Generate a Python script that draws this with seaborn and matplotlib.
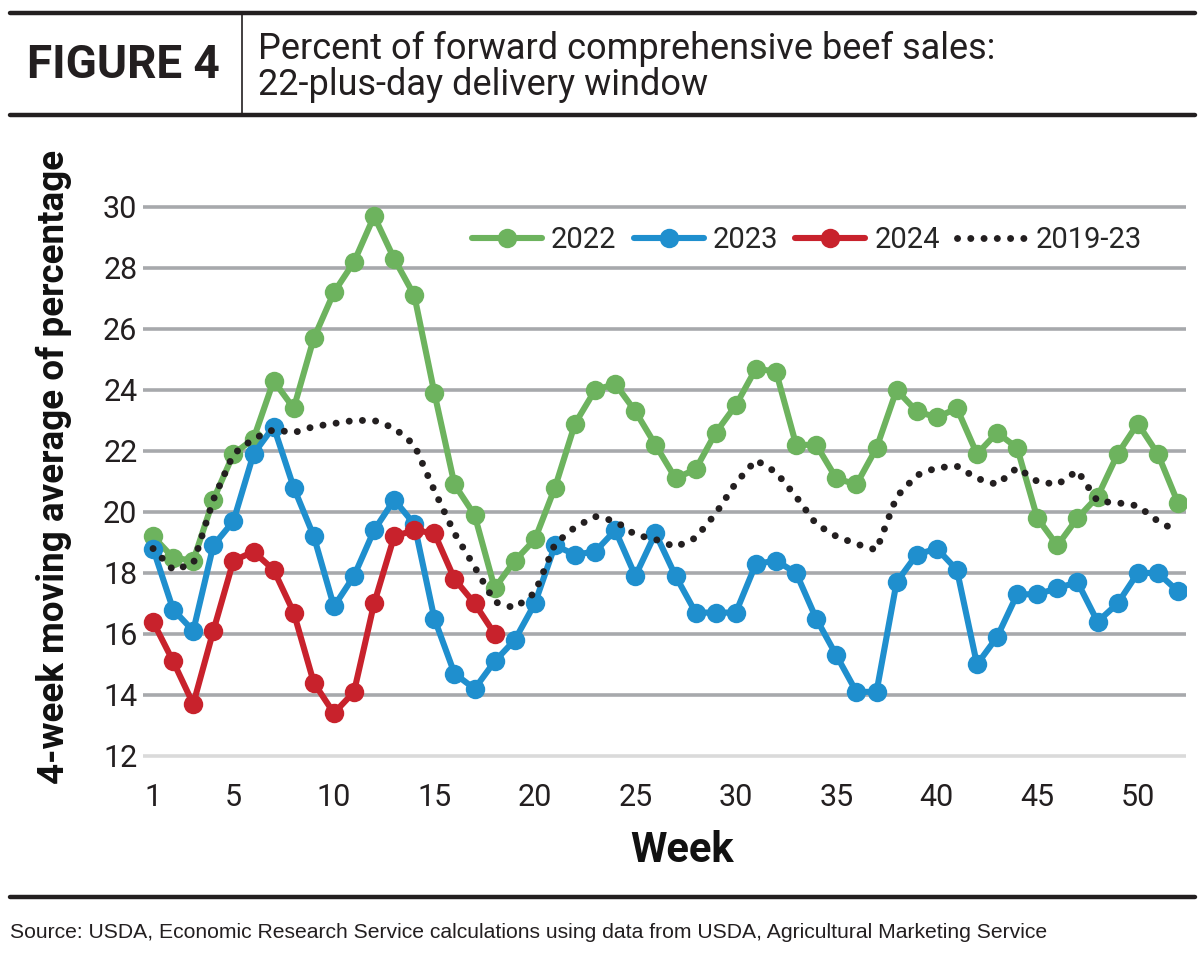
import numpy as np
import pandas as pd
import matplotlib
matplotlib.use('Agg')
import matplotlib.pyplot as plt
import seaborn as sns
from matplotlib.lines import Line2D

# Data (week 1..52)
weeks = list(range(1, 53))
y2022 = [19.2, 18.5, 18.4, 20.4, 21.9, 22.4, 24.3, 23.4, 25.7, 27.2,
         28.2, 29.7, 28.3, 27.1, 23.9, 20.9, 19.9, 17.5, 18.4, 19.1,
         20.8, 22.9, 24.0, 24.2, 23.3, 22.2, 21.1, 21.4, 22.6, 23.5,
         24.7, 24.6, 22.2, 22.2, 21.1, 20.9, 22.1, 24.0, 23.3, 23.1,
         23.4, 21.9, 22.6, 22.1, 19.8, 18.9, 19.8, 20.5, 21.9, 22.9,
         21.9, 20.3]
y2023 = [18.8, 16.8, 16.1, 18.9, 19.7, 21.9, 22.8, 20.8, 19.2, 16.9,
         17.9, 19.4, 20.4, 19.6, 16.5, 14.7, 14.2, 15.1, 15.8, 17.0,
         18.9, 18.6, 18.7, 19.4, 17.9, 19.3, 17.9, 16.7, 16.7, 16.7,
         18.3, 18.4, 18.0, 16.5, 15.3, 14.1, 14.1, 17.7, 18.6, 18.8,
         18.1, 15.0, 15.9, 17.3, 17.3, 17.5, 17.7, 16.4, 17.0, 18.0,
         18.0, 17.4]
y2024 = [16.4, 15.1, 13.7, 16.1, 18.4, 18.7, 18.1, 16.7, 14.4, 13.4,
         14.1, 17.0, 19.2, 19.4, 19.3, 17.8, 17.0, 16.0]
avg_19_23 = [18.8, 18.1, 18.3, 20.4, 21.9, 22.4, 22.7, 22.6, 22.8, 22.9,
             23.0, 23.0, 22.75, 22.2, 20.7, 19.3, 18.2, 17.05, 16.85, 17.35,
             18.95, 19.5, 19.85, 19.7, 19.25, 19.1, 18.85, 19.15, 19.95, 20.95,
             21.7, 21.3, 20.5, 19.6, 19.2, 18.95, 18.75, 20.5, 21.2, 21.45,
             21.5, 21.1, 20.9, 21.45, 21.0, 20.9, 21.35, 20.35, 20.3, 20.2,
             19.7, 19.35]

xticks = [1, 5, 10, 15, 20, 25, 30, 35, 40, 45, 50]
yticks = list(range(12, 31, 2))

green = '#6DB35E'
blue = '#1F8FCE'
red = '#C8222C'
dark = '#231F20'
grid_gray = '#A7A9AC'

sns.set_style('white')
plt.rcParams['font.family'] = ['Roboto', 'DejaVu Sans']

fig = plt.figure(figsize=(12, 9.58), dpi=100)
ax = fig.add_axes([143 / 1200, 0.2046, (1186 - 143) / 1200, 0.5857])

line_kw = dict(lw=4.4, marker='o', markersize=14, markeredgewidth=0)
sns.lineplot(x=weeks, y=y2022, color=green, label='2022', ax=ax, **line_kw)
sns.lineplot(x=weeks, y=y2023, color=blue, label='2023', ax=ax, **line_kw)
sns.lineplot(x=weeks[:len(y2024)], y=y2024, color=red, label='2024', ax=ax, **line_kw)
sns.lineplot(x=weeks, y=avg_19_23, color=dark, label='2019-23', ax=ax,
             lw=5, linestyle=(0, (0.01, 1.9)), dash_capstyle='round')

ax.set_xlim(0.5, 52.4)
ax.set_ylim(11.8, 30.2)
ax.set_xticks(xticks)
ax.set_yticks(yticks)
ax.grid(axis='y', color=grid_gray, lw=2.6)
ax.get_ygridlines()[0].set_color('#DADADA')
ax.set_axisbelow(True)
for s in ax.spines.values():
    s.set_visible(False)
ax.tick_params(axis='both', length=0, labelsize=22, colors='#231F20')
ax.tick_params(axis='y', pad=4)
ax.tick_params(axis='x', pad=15)

ax.set_ylabel('4-week moving average of percentage', fontweight='bold',
              fontsize=26.5, color='#111111')
ax.yaxis.set_label_coords(-0.068, 0.525)
ax.set_xlabel('Week', fontweight='bold', fontsize=30, color='#111111')
ax.xaxis.set_label_coords(0.517, -0.121)

ax.legend(loc='center right', bbox_to_anchor=(0.958, 0.93), ncol=4,
          frameon=False, fontsize=21, handlelength=2.4, handletextpad=0.3,
          columnspacing=0.6, borderaxespad=0, borderpad=0)

# header and footer rules
def hline(y, lw):
    fig.add_artist(Line2D([10 / 1200, 1195 / 1200], [1 - y / 958, 1 - y / 958],
                          color='#231F20', lw=lw))

hline(13, 3.2)
hline(115, 3.2)
hline(897, 3.2)
fig.add_artist(Line2D([242 / 1200, 242 / 1200], [1 - 13 / 958, 1 - 115 / 958],
                      color='#231F20', lw=1.2))

fig.text(27 / 1200, 1 - 65 / 958, 'FIGURE 4', fontweight='bold',
         fontsize=33, va='center', ha='left', color='#231F20')
fig.text(258 / 1200, 1 - 49 / 958, 'Percent of forward comprehensive beef sales:',
         fontsize=26, va='center', ha='left', color='#231F20')
fig.text(258 / 1200, 1 - 85 / 958, '22-plus-day delivery window',
         fontsize=26, va='center', ha='left', color='#231F20')
fig.text(10 / 1200, 1 - 932 / 958,
         'Source: USDA, Economic Research Service calculations using data from USDA, '
         'Agricultural Marketing Service',
         family=['Liberation Sans', 'DejaVu Sans'], fontsize=15.2, va='center',
         ha='left', color='#231F20')

fig.savefig('out.png', dpi=100)
